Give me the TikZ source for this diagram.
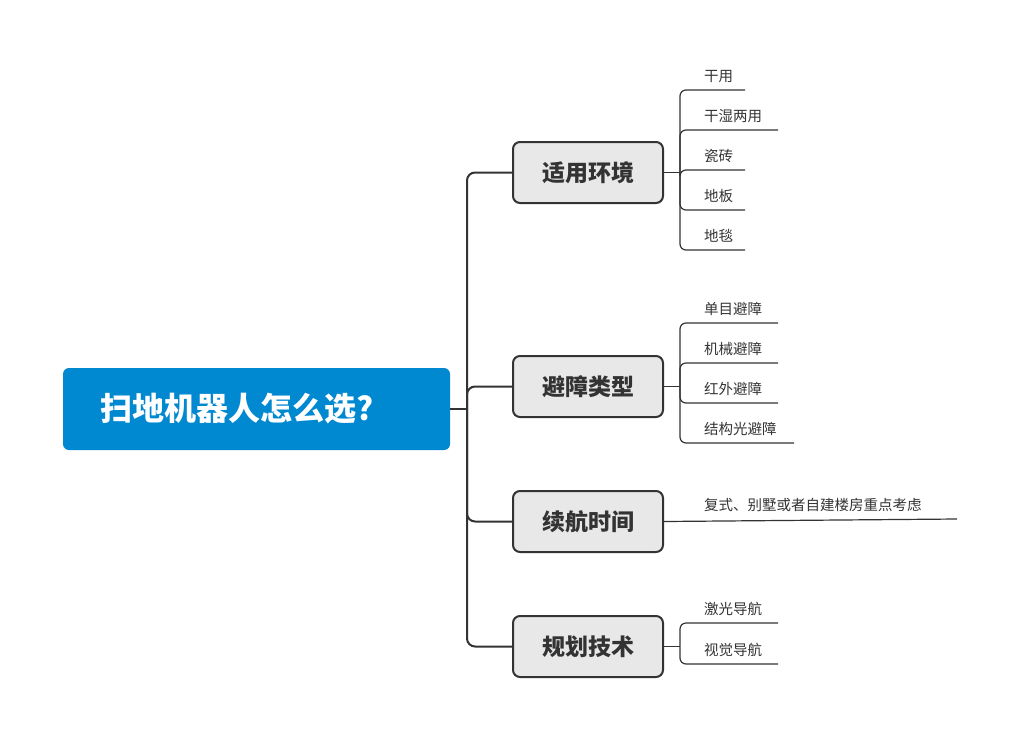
\documentclass[tikz,border=0pt]{standalone}
\usepackage{fontspec}
\newfontfamily\cjk{Noto Sans CJK SC}
\begin{document}
\begin{tikzpicture}[x=1pt,y=-1pt,
  root/.style={fill=rootblue,rounded corners=6pt,minimum width=387pt,minimum height=82pt,inner sep=0pt},
  branch/.style={fill=boxgray,draw=linegray,line width=2pt,rounded corners=7pt,minimum width=150pt,minimum height=61pt,font=\cjk\fontsize{23}{26}\selectfont\bfseries,text=textgray},
  leaf/.style={font=\cjk\fontsize{14.5}{16}\selectfont,text=textgray,anchor=base west,inner sep=0pt},
  conn/.style={draw=linegray,line width=2pt,rounded corners=8pt},
  lconn/.style={draw=linegray,line width=1.2pt,rounded corners=6pt}]
\definecolor{rootblue}{HTML}{0088D1}
\definecolor{boxgray}{HTML}{E8E8E8}
\definecolor{linegray}{HTML}{333333}
\definecolor{textgray}{HTML}{333333}
\useasboundingbox (0,0) rectangle (1018,740);
\node[root] (R) at (256.5,409) {};
\node[anchor=west,text=white,font=\cjk\fontsize{32}{36}\selectfont\bfseries] (RT) at (97,409) {扫地机器人怎么选?};
\node[branch] (B1) at (588,172.5) {适用环境};
\node[branch] (B2) at (588,386.5) {避障类型};
\node[branch] (B3) at (588,521.5) {续航时间};
\node[branch] (B4) at (588,646.5) {规划技术};
\coordinate (J) at (467,409);
\draw[conn] (R.east) -- (J);
\foreach \b in {B1,B2,B3,B4} \draw[conn] (J) |- (\b.west);
% leaves
\newcommand\myleaf[4]{% name, baseline y, underline end x, text
  \node[leaf] (#1) at (704,#2) {#4};
  \coordinate (#1e) at (#3,#2+9);}
\myleaf{L1}{81}{745}{干用}
\myleaf{L2}{121}{778}{干湿两用}
\myleaf{L3}{161}{745}{瓷砖}
\myleaf{L4}{201}{745}{地板}
\myleaf{L5}{241}{745}{地毯}
\myleaf{M1}{314}{778}{单目避障}
\myleaf{M2}{354}{778}{机械避障}
\myleaf{M3}{394}{778}{红外避障}
\myleaf{M4}{434}{794}{结构光避障}
\myleaf{N1}{510}{957}{复式、别墅或者自建楼房重点考虑}
\myleaf{P1}{614}{778}{激光导航}
\myleaf{P2}{655}{778}{视觉导航}
\coordinate (K1) at (680,172.5);
\coordinate (K2) at (680,386.5);
\coordinate (K3) at (680,521.5);
\coordinate (K4) at (680,646.5);
\draw[lconn] (B1.east) -- (K1);
\draw[lconn] (B2.east) -- (K2);
\draw[lconn] (B3.east) -- (N1e);
\draw[lconn] (B4.east) -- (K4);
\foreach \l in {L1,L2,L3,L4,L5} \draw[lconn] (K1) |- (\l e);
\foreach \l in {M1,M2,M3,M4} \draw[lconn] (K2) |- (\l e);
\foreach \l in {P1,P2} \draw[lconn] (K4) |- (\l e);
\end{tikzpicture}
\end{document}
